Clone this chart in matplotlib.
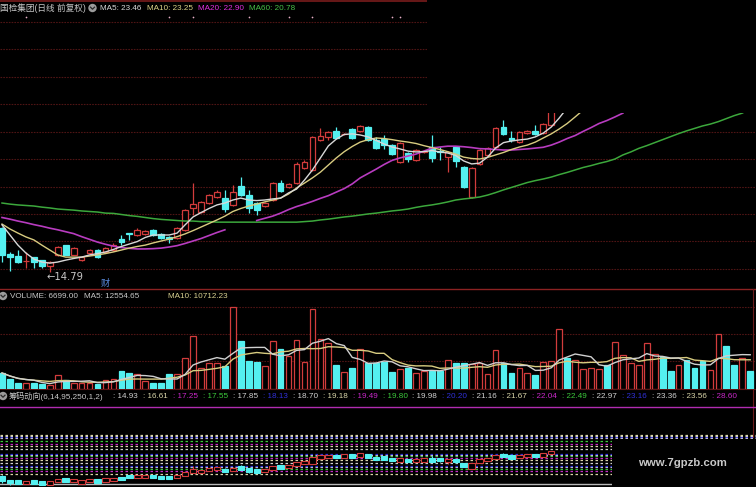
import numpy as np
import pandas as pd
import matplotlib
matplotlib.use('Agg')
import matplotlib.pyplot as plt
from matplotlib.patches import Rectangle, Circle

plt.rcParams['font.family'] = ['Liberation Sans', 'Noto Sans CJK SC', 'DejaVu Sans']

W, H = 756, 487
RED = '#d23c3c'
CYAN = '#54f0f0'

# daily candles (only the part that is visible)
opens = [16.41, 15.45, 15.38, 15.20, 15.34, 15.23, 15.01, 15.42, 15.78, 15.42,
         15.23, 15.49, 15.60, 15.53, 15.60, 16.00, 16.22, 16.15, 16.19, 16.33,
         16.19, 16.08, 16.04, 16.33, 17.14, 16.99, 17.32, 17.54, 17.50, 17.25,
         17.94, 17.61, 17.32, 17.21, 17.43, 18.05, 17.91, 18.05, 18.60, 18.53,
         19.63, 19.74, 19.96, 19.84, 20.03, 19.96, 20.10, 19.63, 19.66, 19.44,
         18.82, 19.15, 18.89, 19.17, 19.37, 19.21, 19.00, 19.37, 18.64, 17.54,
         18.75, 19.08, 19.37, 20.10, 19.70, 19.55, 19.88, 19.96, 19.88, 20.18]
highs = [16.45, 15.53, 15.60, 15.53, 15.36, 15.25, 15.20, 15.74, 15.80, 15.70,
         15.36, 15.64, 15.62, 15.70, 15.86, 16.15, 16.23, 16.40, 16.33, 16.36,
         16.22, 16.10, 16.45, 17.10, 18.05, 17.40, 17.65, 17.80, 17.80, 17.98,
         18.27, 17.80, 17.36, 17.36, 18.09, 18.16, 18.05, 18.82, 18.89, 19.77,
         20.07, 19.96, 20.10, 19.90, 20.07, 20.18, 20.14, 19.74, 19.81, 19.48,
         19.55, 19.19, 19.30, 19.23, 19.81, 19.37, 19.22, 19.40, 18.67, 18.64,
         19.30, 19.37, 20.10, 20.36, 19.96, 19.96, 19.99, 20.18, 20.25, 20.80]
lows = [15.16, 14.83, 15.12, 14.94, 14.94, 14.94, 14.79, 15.38, 15.40, 15.40,
        15.20, 15.47, 15.30, 15.50, 15.58, 15.78, 15.97, 16.12, 16.15, 16.12,
        16.00, 15.86, 16.00, 16.30, 16.88, 16.95, 17.28, 17.50, 16.99, 17.21,
        17.58, 16.95, 16.88, 17.18, 17.40, 17.72, 17.88, 18.02, 18.57, 18.50,
        19.60, 19.63, 19.66, 19.80, 19.66, 19.92, 19.60, 19.30, 19.30, 19.08,
        18.78, 18.82, 18.86, 19.15, 18.82, 18.89, 18.45, 18.64, 17.88, 17.50,
        18.71, 19.04, 19.33, 19.81, 19.55, 19.52, 19.85, 19.81, 19.85, 20.14]
closes = [15.42, 15.34, 15.16, 15.21, 15.16, 15.01, 15.16, 15.71, 15.42, 15.67,
          15.34, 15.60, 15.34, 15.67, 15.78, 15.89, 16.20, 16.33, 16.30, 16.15,
          16.04, 16.00, 16.41, 17.06, 17.28, 17.36, 17.61, 17.72, 17.10, 17.72,
          17.61, 17.14, 17.06, 17.32, 18.05, 17.76, 18.02, 18.75, 18.82, 19.74,
          19.77, 19.92, 19.70, 19.86, 19.70, 20.14, 19.63, 19.33, 19.44, 19.11,
          19.52, 18.93, 19.26, 19.21, 18.97, 19.19, 19.19, 18.86, 17.91, 18.60,
          19.26, 19.33, 20.07, 19.85, 19.63, 19.92, 19.96, 19.85, 20.21, 20.70]

# moving averages as drawn on the chart
ma5 = [16.52, 16.15, 15.78, 15.49, 15.27, 15.16, 15.12, 15.16, 15.23, 15.29,
       15.34, 15.42, 15.47, 15.53, 15.62, 15.73, 15.82, 15.91, 16.06, 16.15,
       16.15, 16.15, 16.22, 16.52, 16.81, 16.97, 17.12, 17.25, 17.32, 17.43,
       17.50, 17.43, 17.41, 17.43, 17.47, 17.50, 17.69, 17.83, 18.16, 18.53,
       18.97, 19.41, 19.66, 19.83, 19.85, 19.81, 19.74, 19.61, 19.48, 19.37,
       19.30, 19.22, 19.19, 19.20, 19.24, 19.19, 19.15, 19.06, 18.86, 18.75,
       18.78, 19.00, 19.33, 19.53, 19.59, 19.63, 19.66, 19.74, 19.88, 20.10,
       20.43, 20.80]
ma10 = [16.55, 16.37, 16.22, 16.08, 15.97, 15.78, 15.60, 15.42, 15.34, 15.34,
        15.34, 15.38, 15.42, 15.47, 15.53, 15.60, 15.67, 15.73, 15.78, 15.86,
        15.93, 16.00, 16.09, 16.19, 16.31, 16.44, 16.57, 16.70, 16.84, 17.01,
        17.12, 17.21, 17.28, 17.36, 17.43, 17.50, 17.65, 17.87, 18.05, 18.24,
        18.45, 18.71, 18.97, 19.20, 19.39, 19.55, 19.64, 19.70, 19.68, 19.64,
        19.59, 19.55, 19.50, 19.42, 19.35, 19.28, 19.20, 19.11, 19.00, 18.95,
        18.93, 18.99, 19.08, 19.17, 19.28, 19.37, 19.44, 19.55, 19.70, 19.85,
        20.03, 20.23, 20.47, 20.72]
ma20 = [16.79, 16.73, 16.66, 16.60, 16.53, 16.47, 16.40, 16.34, 16.27, 16.20,
        16.09, 15.99, 15.89, 15.81, 15.74, 15.69, 15.66, 15.64, 15.64, 15.65,
        15.67, 15.71, 15.76, 15.84, 15.93, 16.02, 16.13, 16.24, 16.34, np.nan,
        np.nan, np.nan, 16.68, 16.76, 16.84, 16.95, 17.08, 17.19, 17.28, 17.38,
        17.49, 17.59, 17.72, 17.85, 18.02, 18.24, 18.40, 18.56, 18.73, 18.88,
        18.97, 19.04, 19.11, 19.22, 19.33, 19.37, 19.40, 19.40, 19.38, 19.35,
        19.31, 19.30, 19.28, 19.26, 19.26, 19.28, 19.30, 19.33, 19.36, 19.44,
        19.55, 19.68, 19.79, 19.94, 20.08, 20.23, 20.34, 20.47, 20.61]
ma60 = [17.32, 17.28, 17.25, 17.23, 17.21, 17.17, 17.14, 17.10, 17.08, 17.06,
        17.03, 17.01, 16.99, 16.95, 16.94, 16.90, 16.86, 16.83, 16.79, 16.75,
        16.72, 16.70, 16.68, 16.66, 16.66, 16.64, 16.64, 16.62, 16.62, 16.62,
        16.62, 16.62, 16.62, 16.62, 16.62, 16.62, 16.62, 16.62, 16.64, 16.66,
        16.70, 16.73, 16.77, 16.81, 16.84, 16.88, 16.92, 16.95, 16.99, 17.03,
        17.06, 17.10, 17.16, 17.21, 17.25, 17.30, 17.36, 17.43, 17.47, 17.50,
        17.54, 17.61, 17.70, 17.80, 17.89, 17.98, 18.07, 18.14, 18.20, 18.27,
        18.36, 18.44, 18.53, 18.62, 18.69, 18.77, 18.84, 18.93, 19.08, 19.19,
        19.32, 19.42, 19.53, 19.64, 19.75, 19.86, 19.96, 20.05, 20.14, 20.21,
        20.30, 20.41, 20.52, 20.61, 20.78]

volume = [5888, 3680, 2208, 2208, 2208, 1840, 1472, 5152, 3312, 2208,
          2208, 2208, 1840, 3312, 3680, 6624, 5888, 5520, 2944, 2208,
          2208, 5520, 5520, 11408, 19504, 7728, 9568, 9568, 8464, 30176,
          17664, 10304, 9936, 8464, 17664, 14720, 12144, 18032, 9936, 29440,
          18400, 16928, 8832, 6256, 7728, 14720, 9568, 9568, 9936, 6256,
          7360, 7728, 5888, 6624, 6624, 6624, 10672, 9568, 9568, 9200,
          9568, 5520, 14352, 9568, 5888, 7728, 5888, 5152, 9936, 10304,
          22080, 11408, 10672, 7360, 7728, 7360, 8832, 17296, 12512, 9568,
          8832, 16928, 12880, 11776, 6624, 8832, 10672, 7728, 10304, 6992,
          20240, 15824, 8832, 11408, 6699]
# up/down of the days whose candles are off the top of the chart
vol_up_tail = [1, 0, 1, 1, 1, 1, 0, 1, 1, 1, 1, 1, 1, 0, 0, 1, 0, 0, 0, 1, 1, 0, 0, 1, 0]

chip_levels = [14.93, 16.61, 17.25, 17.55, 17.85, 18.13, 18.70, 19.18, 19.49, 19.80,
               19.98, 20.20, 21.16, 21.67, 22.04, 22.49, 22.97, 23.16, 23.36, 23.56, 28.60]
chip_cycle = ['#d0d0d0', '#d8d4a8', '#c828c8', '#3cc83c', '#d0d0d0', '#3030d8']

info_marks = [3, 21, 24, 31, 36, 39, 49, 50]

n_all = len(volume)
up = [1 if c >= o else 0 for o, c in zip(opens, closes)] + vol_up_tail

fig = plt.figure(figsize=(W / 100, H / 100), dpi=100, facecolor='black')

def px_axes(top, bottom, z):
    ax = fig.add_axes([0, 1 - bottom / H, 1, (bottom - top) / H])
    ax.set_facecolor('none')
    ax.set_axis_off()
    ax.set_xlim(-2 / 7.96, (W - 2) / 7.96)
    ax.set_zorder(z)
    return ax

# background: grid and separators in pixel coords
bg = fig.add_axes([0, 0, 1, 1])
bg.set_facecolor('black')
bg.set_axis_off()
bg.set_xlim(0, W)
bg.set_ylim(H, 0)
bg.set_zorder(0)
grid_kw = dict(color='#4e1414', lw=0.8, ls=(0, (1.5, 1)))
for y in [22, 49, 77, 104]:
    bg.plot([0, 427], [y, y], **grid_kw)
for y in [132, 159, 187, 214, 241, 269, 307, 334, 361]:
    bg.plot([0, W], [y, y], **grid_kw)
bg.plot([0, 427], [1, 1], color='#7a1c1c', lw=1.2)
bg.plot([0, W], [289, 289], color='#8c2222', lw=1.0)
bg.plot([0, W], [389, 389], color='#5a1616', lw=0.8)
bg.plot([752.5, 752.5], [289, 437], color='#6a1a1a', lw=0.8)


def draw_candles(ax, lw=0.9, width=0.72, min_h=0.02):
    for i in range(len(opens)):
        col = RED if up[i] else CYAN
        top = max(opens[i], closes[i])
        bot = min(opens[i], closes[i])
        ax.vlines(i, lows[i], highs[i], color=col, lw=lw, zorder=2)
        h = max(top - bot, min_h)
        mid = (top + bot) / 2
        ax.add_patch(Rectangle((i - width / 2, mid - h / 2), width, h,
                               facecolor='black' if up[i] else col,
                               edgecolor=col, lw=lw, zorder=3))


# price panel
ax1 = px_axes(0, 288, 1)
ax1.set_ylim(14.21, 24.75)
draw_candles(ax1)
ax1.plot(range(len(ma60)), ma60, color='#3ca83c', lw=1.1, zorder=4)
ax1.plot(range(len(ma20)), ma20, color='#b83cc0', lw=1.2, zorder=4)
ax1.plot(range(len(ma10)), ma10, color='#d8cc80', lw=1.0, zorder=5)
ax1.plot(range(len(ma5)), ma5, color='#d8d8d8', lw=1.0, zorder=5)
lo_i = int(np.argmin(lows))
ax1.annotate('\u2190' + '%.2f' % lows[lo_i], (lo_i, lows[lo_i]), xytext=(-3, -5),
             textcoords='offset pixels', color='#c8c8c8', fontsize=7.2,
             family=['DejaVu Sans'], va='center', ha='left', zorder=6)
ax1.scatter(info_marks, [24.13] * len(info_marks), s=1.5, color='#e8b0c8',
            zorder=6, linewidths=0)

# volume panel
ax2 = px_axes(289, 389, 1)
ax2.set_ylim(0, 36800)
x_all = np.arange(n_all)
ax2.bar(x_all, volume, width=0.72,
        color=['black' if u else CYAN for u in up],
        edgecolor=[RED if u else CYAN for u in up], lw=0.9, zorder=2)
vs = pd.Series(volume, dtype=float)
ax2.plot(x_all, vs.rolling(10, min_periods=1).mean(), color='#d8cc80', lw=1.0, zorder=4)
ax2.plot(x_all, vs.rolling(5, min_periods=1).mean(), color='#d0d0d0', lw=1.0, zorder=4)

# chip indicator panel
ax3 = px_axes(389, 487, 1)
ax3.set_ylim(14.40, 31.69)
for k, lv in enumerate(chip_levels):
    col = chip_cycle[k % 6]
    if k == 0:
        ax3.axhline(lv, color='#b8b8b8', lw=1.0, zorder=1)
    elif k == len(chip_levels) - 1:
        ax3.axhline(lv, color='#b02cb0', lw=1.0, zorder=1)
    else:
        ax3.axhline(lv, color=col, lw=0.9, ls=(0, (2, 2)), zorder=1)
draw_candles(ax3, lw=0.8, width=0.8, min_h=0.6)

# foreground: masks, headers, labels
fg = fig.add_axes([0, 0, 1, 1])
fg.set_facecolor('none')
fg.set_axis_off()
fg.set_xlim(0, W)
fg.set_ylim(H, 0)
fg.set_zorder(3)
fg.add_patch(Rectangle((427, -1), W - 427, 114, facecolor='black', edgecolor='none'))
fg.add_patch(Rectangle((612, 439), W - 612, H - 439, facecolor='black', edgecolor='none'))


def icon(x, y):
    fg.add_patch(Circle((x, y), 4.2, facecolor='#9c9c9c', edgecolor='none'))
    fg.plot([x - 2, x, x + 2], [y - 0.8, y + 1.2, y - 0.8], color='#2a2a2a', lw=0.9)


fs = 5.9
fg.text(0, 8, '国检集团(日线 前复权)', color='#c8c8c8', fontsize=6.2, va='center')
icon(92.5, 8)
fg.text(100, 8, 'MA5: 23.46', color='#d8d8d8', fontsize=fs, va='center')
fg.text(147, 8, 'MA10: 23.25', color='#dcd488', fontsize=fs, va='center')
fg.text(198, 8, 'MA20: 22.90', color='#e030e0', fontsize=fs, va='center')
fg.text(249, 8, 'MA60: 20.78', color='#48c048', fontsize=fs, va='center')
fg.text(101, 283, '财', color='#5a8ce0', fontsize=6.6, va='center')

icon(3, 296)
fg.text(10, 296, 'VOLUME: 6699.00', color='#c8c8c8', fontsize=fs, va='center')
fg.text(84, 296, 'MA5: 12554.65', color='#c8c8c8', fontsize=fs, va='center')
fg.text(168, 296, 'MA10: 10712.23', color='#d8d090', fontsize=fs, va='center')

icon(3, 396)
fg.text(9, 396, '筹码动向(6,14,95,250,1,2)', color='#c8c8c8', fontsize=fs, va='center')
for k, lv in enumerate(chip_levels):
    fg.text(113 + 29.95 * k, 396, ': %.2f' % lv, color=chip_cycle[k % 6],
            fontsize=fs, va='center')

fg.text(638, 463, 'www.7gpzb.com', color='#c8c8c8', fontsize=8.2,
        fontweight='bold', va='center')

fig.savefig('out.png', dpi=100, facecolor='black')
